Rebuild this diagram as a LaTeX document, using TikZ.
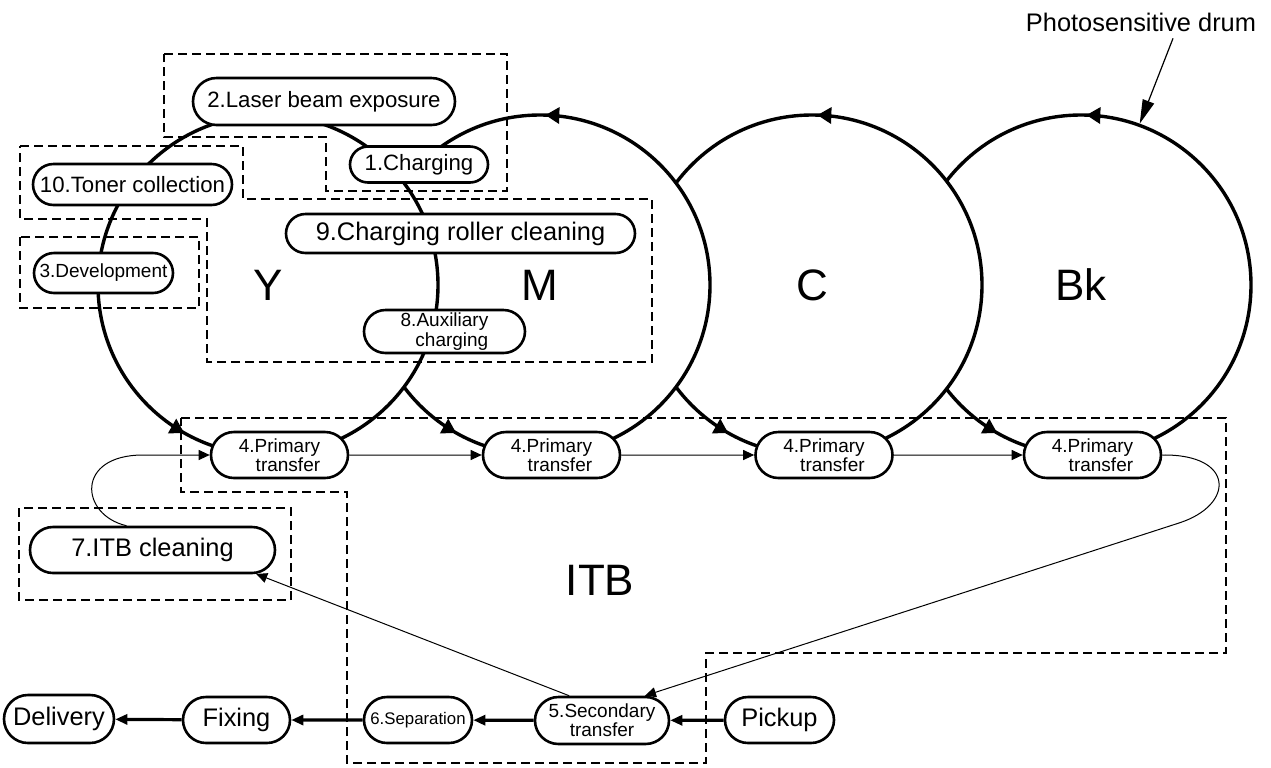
\documentclass[tikz,border=0pt]{standalone}
\usepackage{fontspec}
\setmainfont{Liberation Sans}
\usetikzlibrary{arrows.meta, shapes.misc, decorations.markings, calc}

\begin{document}
\begin{tikzpicture}[x=0.5pt, y=-0.5pt,
    drum/.style={circle, draw, line width=1.7pt, fill=white, minimum size=170pt, inner sep=0pt,
        font=\fontsize{22}{22}\selectfont,
        postaction={decorate, decoration={markings,
            mark=at position 0.245 with {\arrow{Triangle[length=7pt, width=8pt]}},
            mark=at position 0.668 with {\arrow{Triangle[length=7pt, width=8pt]}}}}},
    proc/.style={rounded rectangle, draw, line width=1.3pt, fill=white, inner sep=0pt},
    zone/.style={line width=1.3pt, dash pattern=on 4.5pt off 2.5pt},
    bigtxt/.style={font=\fontsize{12.7}{13}\selectfont},
    midtxt/.style={font=\fontsize{11.1}{12}\selectfont},
    smalltxt/.style={font=\fontsize{9.5}{9.6}\selectfont},
    thinarr/.style={line width=0.5pt, -{Triangle[length=5.5pt, width=5pt]}},
    flow/.style={line width=1.6pt, -{Triangle[length=6pt, width=5pt]}}]
    \useasboundingbox (0, 0) rectangle (1271, 767);

    % 感光鼓
    \node[drum] (bk) at (1081, 285) {Bk};
    \node[drum] (c) at (812, 285) {C};
    \node[drum] (m) at (540, 285) {M};
    \node[drum] (y) at (268, 285) {Y};

    % 虚线区域
    \draw[zone] (164, 54) -- (507, 54) -- (507, 191) -- (326, 191) -- (326, 137) -- (164, 137) -- cycle;
    \draw[zone] (20, 146) -- (243, 146) -- (243, 199) -- (652, 199) -- (652, 362) -- (207, 362) -- (207, 219) -- (20, 219) -- cycle;
    \draw[zone] (20, 237) rectangle (199, 308);
    \draw[zone] (181, 418) -- (1226, 418) -- (1226, 653) -- (706, 653) -- (706, 763) -- (347, 763) -- (347, 492) -- (181, 492) -- cycle;
    \draw[zone] (19, 508) rectangle (291, 600);

    % 工序
    \node[proc, midtxt, minimum width=131pt, minimum height=23.5pt] (laser) at (324, 101.5) {2.Laser beam exposure};
    \node[proc, midtxt, minimum width=69pt, minimum height=18pt] (chg) at (419, 164.5) {1.Charging};
    \node[proc, midtxt, minimum width=99.5pt, minimum height=20.5pt] (toner) at (132.5, 184.5) {10.Toner collection};
    \node[proc, bigtxt, minimum width=174.5pt, minimum height=19.5pt] (roller) at (460.5, 233.5) {9.Charging roller cleaning};
    \node[proc, smalltxt, minimum width=69.5pt, minimum height=20pt] (dev) at (103.5, 273) {3.Development};
    \node[proc, smalltxt, align=right, minimum width=80.5pt, minimum height=21.5pt] (aux) at (444.5, 331.5) {8.Auxiliary\\charging};
    \node[proc, smalltxt, align=right, minimum width=68.5pt, minimum height=23pt] (pt1) at (279.5, 455) {4.Primary\\transfer};
    \node[proc, smalltxt, align=right, minimum width=68.5pt, minimum height=23pt] (pt2) at (551.5, 455) {4.Primary\\transfer};
    \node[proc, smalltxt, align=right, minimum width=68.5pt, minimum height=23pt] (pt3) at (824, 455) {4.Primary\\transfer};
    \node[proc, smalltxt, align=right, minimum width=68.5pt, minimum height=23pt] (pt4) at (1092.5, 455) {4.Primary\\transfer};
    \node[proc, bigtxt, minimum width=122.5pt, minimum height=23pt] (itbc) at (152.5, 550) {7.ITB cleaning};
    \node[proc, bigtxt, minimum width=55pt, minimum height=24pt] (deliv) at (59, 719) {Delivery};
    \node[proc, bigtxt, minimum width=53.5pt, minimum height=23pt] (fix) at (236.5, 720) {Fixing};
    \node[proc, font=\fontsize{8.4}{9}\selectfont, minimum width=54pt, minimum height=23pt] (sep) at (418, 720) {6.Separation};
    \node[proc, smalltxt, align=center, minimum width=67pt, minimum height=23.5pt] (sec) at (602, 720.5) {5.Secondary\\transfer};
    \node[proc, bigtxt, minimum width=54.5pt, minimum height=23pt] (pick) at (779.5, 720) {Pickup};

    \node[font=\fontsize{22}{22}\selectfont] (itb) at (600, 580) {ITB};
    \node[bigtxt] (phd) at (1141, 22) {Photosensitive drum};
    \draw[line width=0.6pt, -{Triangle[length=12pt, width=6pt]}] ([xshift=16pt]phd.south) -- (bk.70);

    % 转印带上的流向
    \draw[thinarr] (pt1) -- (pt2);
    \draw[thinarr] (pt2) -- (pt3);
    \draw[thinarr] (pt3) -- (pt4);
    \coordinate (turn) at (1179, 523);
    \draw[thinarr] (pt4.east) .. controls (1235, 454) and (1235, 505) .. (turn) -- (sec.30);
    \draw[thinarr] (sec.143) -- (itbc.-13);
    \coordinate (back) at (143, 455);
    \draw[thinarr] (itbc.137) .. controls (80, 515) and (75, 455) .. (back) -- (pt1.west);

    % 纸张流向
    \draw[flow] (pick) -- (sec);
    \draw[flow] (sec) -- (sep);
    \draw[flow] (sep) -- (fix);
    \draw[flow] (fix) -- (deliv);
\end{tikzpicture}
\end{document}
